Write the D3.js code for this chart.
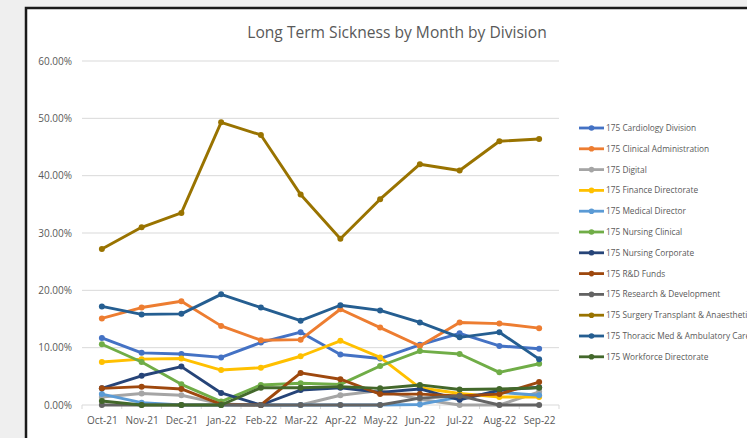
<!DOCTYPE html>
<html>
<head>
<meta charset="utf-8">
<script src="https://cdn.jsdelivr.net/npm/d3@7"></script>
<style>
  html, body { margin: 0; padding: 0; background: #efefef; overflow: hidden; }
  svg { display: block; }
  text { font-family: "Open Sans", "Noto Sans", sans-serif; }
</style>
</head>
<body>
<svg id="chart" width="747" height="438"></svg>
<script>
// Months on the category axis
const months = ["Oct-21","Nov-21","Dec-21","Jan-22","Feb-22","Mar-22","Apr-22","May-22","Jun-22","Jul-22","Aug-22","Sep-22"];

// Division names, in legend order
const divisions = [
  "175 Cardiology Division",
  "175 Clinical Administration",
  "175 Digital",
  "175 Finance Directorate",
  "175 Medical Director",
  "175 Nursing Clinical",
  "175 Nursing Corporate",
  "175 R&D Funds",
  "175 Research & Development",
  "175 Surgery Transplant & Anaesthetics",
  "175 Thoracic Med & Ambulatory Care",
  "175 Workforce Directorate"
];

// Long term sickness rate (%) per division per month
const cardiology   = [11.7, 9.1, 8.9, 8.3, 10.9, 12.7, 8.8, 8.1, 10.5, 12.5, 10.3, 9.8];
const clinicalAdm  = [15.1, 17.0, 18.1, 13.8, 11.3, 11.4, 16.7, 13.5, 10.3, 14.4, 14.2, 13.4];
const digital      = [1.4, 2.0, 1.7, 0.2, 0.0, 0.0, 1.7, 2.5, 1.0, 0.0, 0.0, 2.3];
const finance      = [7.5, 8.0, 8.1, 6.1, 6.5, 8.5, 11.2, 8.3, 3.0, 2.0, 1.4, 1.4];
const medicalDir   = [1.9, 0.4, 0.0, 0.0, 0.0, 0.0, 0.0, 0.0, 0.1, 1.4, 2.2, 1.7];
const nursingClin  = [10.6, 7.5, 3.6, 0.6, 3.5, 3.8, 3.6, 6.8, 9.4, 8.9, 5.7, 7.2];
const nursingCorp  = [2.9, 5.1, 6.7, 2.1, 0.0, 2.6, 3.0, 2.2, 2.8, 0.9, 2.6, 3.1];
const rdFunds      = [2.9, 3.2, 2.8, 0.1, 0.0, 5.6, 4.5, 1.9, 1.9, 1.6, 1.9, 4.0];
const researchDev  = [0.0, 0.0, 0.0, 0.0, 0.0, 0.0, 0.0, 0.0, 1.2, 1.6, 0.0, 0.0];
const surgery      = [27.2, 31.0, 33.5, 49.3, 47.1, 36.7, 29.0, 35.9, 42.0, 40.9, 46.0, 46.4];
const thoracic     = [17.2, 15.8, 15.9, 19.3, 17.0, 14.7, 17.4, 16.5, 14.4, 11.8, 12.7, 8.0];
const workforce    = [0.7, 0.0, 0.0, 0.0, 3.0, 3.0, 3.2, 2.9, 3.5, 2.7, 2.8, 3.0];

const seriesValues = [cardiology, clinicalAdm, digital, finance, medicalDir, nursingClin,
                      nursingCorp, rdFunds, researchDev, surgery, thoracic, workforce];

// Y-axis tick values (%)
const yTicks = [0, 10, 20, 30, 40, 50, 60];

const colors = ["#4472C4","#ED7D31","#A5A5A5","#FFC000","#5B9BD5","#70AD47",
                "#264478","#9E480E","#636363","#997300","#255E91","#43682B"];

const series = divisions.map((name, i) => ({ name, values: seriesValues[i], color: colors[i] }));

const svg = d3.select("#chart");

// Chart area with frame
svg.append("rect")
  .attr("x", 26).attr("y", 8)
  .attr("width", 760).attr("height", 460)
  .attr("fill", "#ffffff")
  .attr("stroke", "#1a1a1a")
  .attr("stroke-width", 2.5);

svg.append("text")
  .attr("x", 397).attr("y", 38)
  .attr("text-anchor", "middle")
  .attr("fill", "#595959")
  .style("font-size", "15.6px")
  .text("Long Term Sickness by Month by Division");

const plotLeft = 82, plotRight = 559, plotTop = 61, plotBottom = 405;

const x = d3.scalePoint().domain(months).range([plotLeft, plotRight]).padding(0.5);
const y = d3.scaleLinear().domain([0, 60]).range([plotBottom, plotTop]);

// Horizontal gridlines
svg.append("g")
  .selectAll("line")
  .data(yTicks)
  .join("line")
  .attr("x1", plotLeft).attr("x2", plotRight)
  .attr("y1", d => y(d)).attr("y2", d => y(d))
  .attr("stroke", "#d9d9d9")
  .attr("stroke-width", 1);

// Y axis labels
const yAxis = d3.axisLeft(y).tickValues(yTicks).tickSize(0).tickPadding(10)
  .tickFormat(d => d.toFixed(2) + "%");
const gy = svg.append("g").attr("transform", `translate(${plotLeft},0)`).call(yAxis);
gy.select(".domain").remove();
gy.selectAll("text").attr("fill", "#595959").style("font-size", "10px")
  .style("font-family", "'Open Sans', sans-serif");

// X axis labels and tick marks between categories
const step = x.step();
const xAxis = d3.axisBottom(x).tickSize(0).tickPadding(12);
const gx = svg.append("g").attr("transform", `translate(0,${plotBottom})`).call(xAxis);
gx.select(".domain").remove();
gx.selectAll("text").attr("fill", "#595959").style("font-size", "10px")
  .style("font-family", "'Open Sans', sans-serif");
svg.append("g")
  .selectAll("line")
  .data(d3.range(months.length + 1))
  .join("line")
  .attr("x1", i => plotLeft + i * step).attr("x2", i => plotLeft + i * step)
  .attr("y1", plotBottom).attr("y2", plotBottom + 4)
  .attr("stroke", "#d9d9d9");

// Lines with markers
const line = d3.line()
  .x((d, i) => x(months[i]))
  .y(d => y(d));

const gSeries = svg.append("g")
  .selectAll("g")
  .data(series)
  .join("g");

gSeries.append("path")
  .attr("d", d => line(d.values))
  .attr("fill", "none")
  .attr("stroke", d => d.color)
  .attr("stroke-width", 2.9)
  .attr("stroke-linejoin", "round")
  .attr("stroke-linecap", "round");

gSeries.each(function(s) {
  d3.select(this).selectAll("circle")
    .data(s.values)
    .join("circle")
    .attr("cx", (d, i) => x(months[i]))
    .attr("cy", d => y(d))
    .attr("r", 3)
    .attr("fill", s.color);
});

// Legend (the right edge of the chart area clips the longest names)
const legend = svg.append("g")
  .selectAll("g")
  .data(series)
  .join("g")
  .attr("transform", (d, i) => `translate(579,${128 + i * 20.8})`);

legend.append("line")
  .attr("x1", 0).attr("x2", 25)
  .attr("stroke", d => d.color)
  .attr("stroke-width", 2.8);
legend.append("circle")
  .attr("cx", 12.5).attr("r", 2.8)
  .attr("fill", d => d.color);
legend.append("text")
  .attr("x", 27).attr("y", 3)
  .attr("fill", "#595959")
  .style("font-size", "8.3px")
  .text(d => d.name);
</script>
</body>
</html>
